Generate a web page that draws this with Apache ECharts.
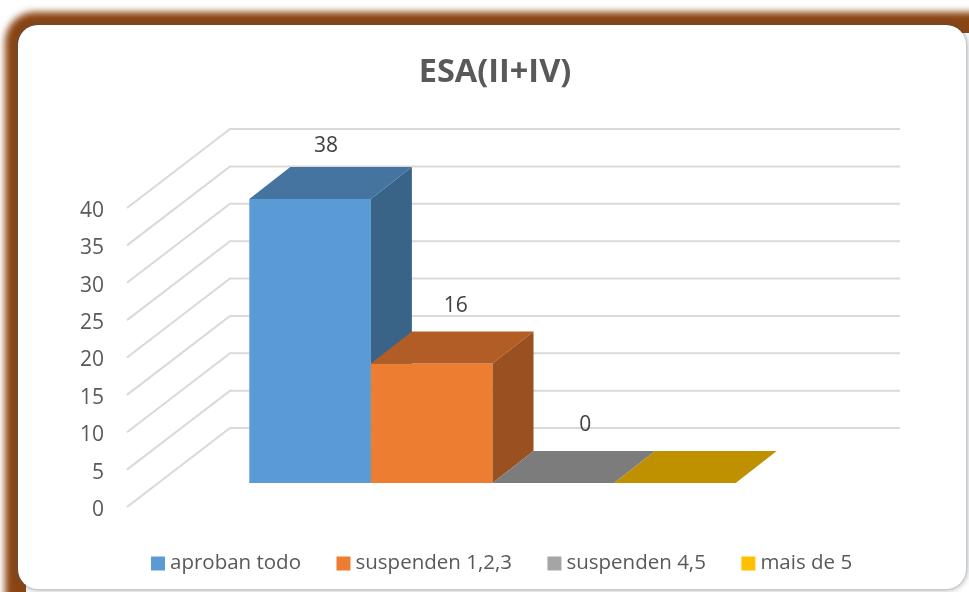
<!DOCTYPE html>
<html>
<head>
<meta charset="utf-8">
<style>
    html,body{margin:0;padding:0;background:#fff;overflow:hidden;}
    #chart{width:969px;height:592px;}
</style>
<script src="https://cdn.jsdelivr.net/npm/echarts@6/dist/echarts.min.js"></script>
</head>
<body>
<div id="chart"></div>
<script>
    // data
    let categories = ['ESA(II+IV)'];
    let seriesNames = ['aproban todo', 'suspenden 1,2,3', 'suspenden 4,5', 'mais de 5'];
    let seriesValues = [[38], [16], [0], [0]];
    let seriesLabels = ['38', '16', '0', ''];
    let yTicks = [0, 5, 10, 15, 20, 25, 30, 35, 40];

    // front / top / side colours of each bar
    let legendColors = ['#5B9BD5', '#ED7D31', '#A5A5A5', '#FFC000'];
    let topColors = ['#44749F', '#B25D25', '#7C7C7C', '#BF9000'];
    let sideColors = ['#3A6388', '#9A5020', '#6B6B6B', '#A67C00'];

    const fontName = '"Open Sans", sans-serif';
    const wallDepth = [103, -79];   // front plane to back wall
    const barShift = [30.5, -24];   // front plane to bar front
    const barDepth = [41, -32];     // bar front to bar back
    const barRatio = 0.1815;        // one bar as a part of the category band
    const labelShift = [[16, -21], [24, -25], [32, -26]];   // bar top centre to its label

    function renderWall(params, api) {
        let p = api.coord([0, api.value(0)]);
        let left = params.coordSys.x;
        let backX = left + wallDepth[0];
        let backY = p[1] + wallDepth[1];
        return {
            type: 'polyline',
            shape: {points: [[left, p[1]], [backX, backY], [900, backY]]},
            style: {stroke: '#D9D9D9', lineWidth: 2, fill: null}
        };
    }

    function renderBar(index) {
        return function (params, api) {
            let band = api.size([1, 0])[0];
            let w = band * barRatio;
            let center = api.coord([0, 0]);
            let top = api.coord([0, api.value(1)]);
            let x0 = center[0] + barShift[0] + (index - 2) * w;
            let x1 = x0 + w;
            let yB = center[1] + barShift[1];
            let yT = top[1] + barShift[1];
            let dx = barDepth[0], dy = barDepth[1];
            let children = [];
            if (yB - yT > 0) {
                children.push({
                    type: 'rect',
                    shape: {x: x0, y: yT, width: w, height: yB - yT},
                    style: {fill: legendColors[index]}
                });
                children.push({
                    type: 'polygon',
                    shape: {points: [[x1, yT], [x1 + dx, yT + dy], [x1 + dx, yB + dy], [x1, yB]]},
                    style: {fill: sideColors[index]}
                });
            }
            children.push({
                type: 'polygon',
                shape: {points: [[x0, yT], [x0 + dx, yT + dy], [x1 + dx, yT + dy], [x1, yT]]},
                style: {fill: topColors[index]}
            });
            if (seriesLabels[index] !== '') {
                children.push({
                    type: 'text',
                    style: {
                        x: (x0 + x1) / 2 + labelShift[index][0],
                        y: yT + dy + labelShift[index][1],
                        text: seriesLabels[index],
                        fill: '#404040',
                        font: '21px ' + fontName,
                        textAlign: 'center',
                        textVerticalAlign: 'middle'
                    }
                });
            }
            return {type: 'group', children: children};
        };
    }

    let _series = [{
        name: 'walls',
        type: 'custom',
        silent: true,
        data: yTicks.map(function (t) { return [t]; }),
        encode: {y: 0},
        renderItem: renderWall
    }];
    for (let i = 0; i < seriesNames.length; i++) {
        _series.push({
            name: seriesNames[i],
            type: 'custom',
            itemStyle: {color: legendColors[i]},
            data: seriesValues[i].map(function (v, n) { return [n, v]; }),
            encode: {x: 0, y: 1},
            renderItem: renderBar(i)
        });
    }

    let _option = {
        animation: false,
        backgroundColor: '#fff',
        graphic: [
            // brown band: drawn off the page, only its blurred shadow lands here
            {
                type: 'rect', z: -10, silent: true,
                shape: {x: 5 - 3000, y: 12, width: 1100, height: 620, r: 30},
                style: {fill: '#8B4513', shadowBlur: 7, shadowColor: '#8B4513', shadowOffsetX: 3000}
            },
            // hides the band on the right and along the bottom
            {
                type: 'rect', z: -9, silent: true,
                shape: {x: 26, y: 33, width: 948, height: 565},
                style: {fill: '#fff'}
            },
            {
                type: 'rect', z: -8, silent: true,
                shape: {x: 18, y: 25, width: 948, height: 564, r: 20},
                style: {fill: '#fff', shadowBlur: 6, shadowColor: 'rgba(70,80,90,.7)'}
            }
        ],
        title: {
            text: categories[0],
            left: 490,
            top: 51,
            textAlign: 'center',
            textStyle: {color: '#595959', fontSize: 32.5, fontWeight: 'bold', fontFamily: fontName}
        },
        legend: {
            data: seriesNames,
            top: 553,
            left: 151,
            padding: 0,
            itemWidth: 14,
            itemHeight: 14,
            itemGap: 35.5,
            icon: 'rect',
            textStyle: {color: '#595959', fontSize: 20.5, fontFamily: fontName}
        },
        grid: {left: 127, top: 208, width: 670, height: 299},
        xAxis: {type: 'category', data: categories, show: false},
        yAxis: {
            type: 'value',
            min: 0,
            max: 40,
            interval: 5,
            axisLine: {show: false},
            axisTick: {show: false},
            splitLine: {show: false},
            axisLabel: {
                margin: 23,
                formatter: '{a|{value}}',
                rich: {a: {color: '#595959', fontSize: 21, fontFamily: fontName, padding: [6, 0, 0, 0]}}
            }
        },
        series: _series
    };

    let myChart = echarts.init(document.getElementById('chart'));
    myChart.setOption(_option);
</script>
</body>
</html>
